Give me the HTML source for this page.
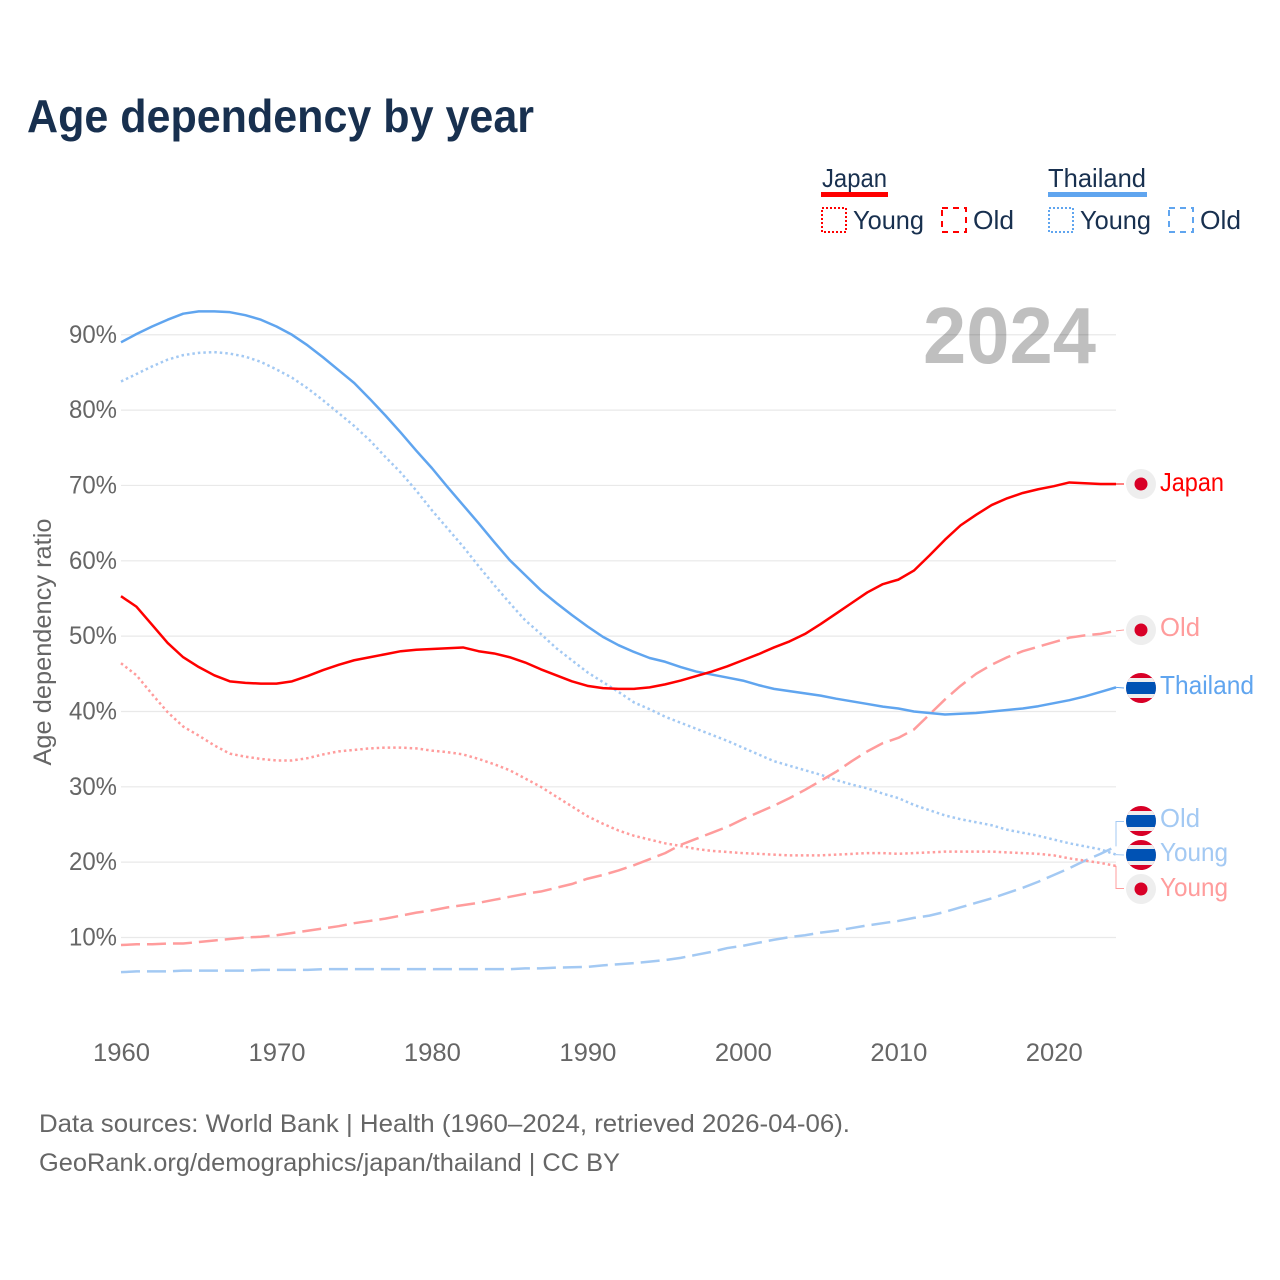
<!DOCTYPE html>
<html lang="en">
<head>
<meta charset="utf-8">
<title>Age dependency by year</title>
<style>
html,body{margin:0;padding:0;background:#fff}
svg{display:block}
text{font-family:"Liberation Sans",sans-serif}
</style>
</head>
<body>
<svg id="chart" width="1280" height="1280" viewBox="0 0 1280 1280" xmlns="http://www.w3.org/2000/svg">
<defs>
<clipPath id="c1"><circle cx="1141" cy="688" r="15"/></clipPath>
<clipPath id="c2"><circle cx="1141" cy="821" r="15"/></clipPath>
<clipPath id="c3"><circle cx="1141" cy="855" r="15"/></clipPath>
</defs>
<rect width="1280" height="1280" fill="#fff"/>
<text x="27" y="132" font-size="46" font-weight="700" fill="#18304f" textLength="507" lengthAdjust="spacingAndGlyphs">Age dependency by year</text>

<g font-size="26" fill="#18304f">
<text x="822" y="187" textLength="65" lengthAdjust="spacingAndGlyphs">Japan</text>
<rect x="821" y="192" width="67" height="5" fill="#ff0000"/>
<rect x="822" y="208" width="24" height="24" fill="none" stroke="#ff0000" stroke-width="2" stroke-dasharray="2 2"/>
<text x="853" y="229" textLength="71" lengthAdjust="spacingAndGlyphs">Young</text>
<rect x="942" y="208" width="24" height="24" fill="none" stroke="#ff0000" stroke-width="2" stroke-dasharray="6 5"/>
<text x="973" y="229" textLength="41" lengthAdjust="spacingAndGlyphs">Old</text>
<text x="1048" y="187" textLength="98" lengthAdjust="spacingAndGlyphs">Thailand</text>
<rect x="1048" y="192" width="99" height="5" fill="#60a5ef"/>
<rect x="1049" y="208" width="24" height="24" fill="none" stroke="#60a5ef" stroke-width="2" stroke-dasharray="2 2"/>
<text x="1080" y="229" textLength="71" lengthAdjust="spacingAndGlyphs">Young</text>
<rect x="1169" y="208" width="24" height="24" fill="none" stroke="#60a5ef" stroke-width="2" stroke-dasharray="6 5"/>
<text x="1200" y="229" textLength="41" lengthAdjust="spacingAndGlyphs">Old</text>
</g>

<g id="grid"></g>
<g id="yticks" font-size="25" fill="#666"></g>
<g id="xticks" font-size="25" fill="#666"></g>
<text transform="translate(51 642) rotate(-90)" text-anchor="middle" font-size="25" fill="#666" textLength="247" lengthAdjust="spacingAndGlyphs">Age dependency ratio</text>
<text x="923" y="363" font-size="80" font-weight="700" fill="#000" fill-opacity="0.25" textLength="173" lengthAdjust="spacingAndGlyphs">2024</text>
<g id="series"></g>

<g font-size="26">
<path id="lead-japan" fill="none" stroke="#ff0000" stroke-width="1"/>
<path id="lead-japan-old" fill="none" stroke="#ff9c9c" stroke-width="1"/>
<path id="lead-thailand" fill="none" stroke="#60a5ef" stroke-width="1"/>
<path id="lead-thailand-old" fill="none" stroke="#a3c9f3" stroke-width="1"/>
<path id="lead-thailand-young" fill="none" stroke="#a3c9f3" stroke-width="1"/>
<path id="lead-japan-young" fill="none" stroke="#ff9c9c" stroke-width="1"/>

<g><circle cx="1141" cy="484" r="15" fill="#eeeeee"/><circle cx="1141" cy="484" r="6.5" fill="#d80027"/></g>
<g><circle cx="1141" cy="630" r="15" fill="#eeeeee"/><circle cx="1141" cy="630" r="6.5" fill="#d80027"/></g>
<g clip-path="url(#c1)"><rect x="1126" y="673" width="30" height="30" fill="#d80027"/><rect x="1126" y="678" width="30" height="20" fill="#eeeeee"/><rect x="1126" y="682" width="30" height="12" fill="#0052b4"/></g>
<g clip-path="url(#c2)"><rect x="1126" y="806" width="30" height="30" fill="#d80027"/><rect x="1126" y="811" width="30" height="20" fill="#eeeeee"/><rect x="1126" y="815" width="30" height="12" fill="#0052b4"/></g>
<g clip-path="url(#c3)"><rect x="1126" y="840" width="30" height="30" fill="#d80027"/><rect x="1126" y="845" width="30" height="20" fill="#eeeeee"/><rect x="1126" y="849" width="30" height="12" fill="#0052b4"/></g>
<g><circle cx="1141" cy="889" r="15" fill="#eeeeee"/><circle cx="1141" cy="889" r="6.5" fill="#d80027"/></g>

<text x="1160" y="491" fill="#ff0000" textLength="64" lengthAdjust="spacingAndGlyphs">Japan</text>
<text x="1160" y="636" fill="#ff9c9c" textLength="40" lengthAdjust="spacingAndGlyphs">Old</text>
<text x="1160" y="694" fill="#60a5ef" textLength="94" lengthAdjust="spacingAndGlyphs">Thailand</text>
<text x="1160" y="827" fill="#a3c9f3" textLength="40" lengthAdjust="spacingAndGlyphs">Old</text>
<text x="1160" y="861" fill="#a3c9f3" textLength="68" lengthAdjust="spacingAndGlyphs">Young</text>
<text x="1160" y="896" fill="#ff9c9c" textLength="68" lengthAdjust="spacingAndGlyphs">Young</text>
</g>

<g font-size="25" fill="#666">
<text x="39" y="1132" textLength="811" lengthAdjust="spacingAndGlyphs">Data sources: World Bank | Health (1960–2024, retrieved 2026-04-06).</text>
<text x="39" y="1171" textLength="581" lengthAdjust="spacingAndGlyphs">GeoRank.org/demographics/japan/thailand | CC BY</text>
</g>
</svg>
<script>
const firstYear = 1960;
const yTickValues = [10, 20, 30, 40, 50, 60, 70, 80, 90];
const xTickValues = [1960, 1970, 1980, 1990, 2000, 2010, 2020];

const japanTotal = [55.3,53.9,51.5,49.1,47.2,45.9,44.8,44.0,43.8,43.7,43.7,44.0,44.7,45.5,46.2,46.8,47.2,47.6,48.0,48.2,48.3,48.4,48.5,48.0,47.7,47.2,46.5,45.6,44.8,44.0,43.4,43.1,43.0,43.0,43.2,43.6,44.1,44.7,45.3,46.0,46.8,47.6,48.5,49.3,50.3,51.6,53.0,54.4,55.8,56.9,57.5,58.7,60.7,62.8,64.7,66.1,67.4,68.3,69.0,69.5,69.9,70.4,70.3,70.2,70.2];
const japanYoung = [46.4,44.8,42.3,39.9,38.0,36.8,35.5,34.4,34.0,33.7,33.5,33.5,33.8,34.3,34.7,34.9,35.1,35.2,35.2,35.1,34.8,34.6,34.3,33.7,33.0,32.2,31.1,30.0,28.7,27.4,26.1,25.1,24.2,23.5,23.0,22.5,22.15,21.75,21.5,21.35,21.2,21.1,21.0,20.9,20.9,20.9,21.0,21.1,21.2,21.2,21.1,21.2,21.3,21.4,21.4,21.4,21.4,21.3,21.2,21.1,20.9,20.5,20.2,19.9,19.5];
const japanOld = [9.0,9.1,9.1,9.2,9.2,9.4,9.6,9.8,10.0,10.1,10.3,10.6,10.9,11.2,11.5,11.9,12.2,12.5,12.9,13.3,13.6,14.0,14.3,14.6,15.0,15.4,15.8,16.1,16.6,17.1,17.8,18.3,18.9,19.6,20.4,21.2,22.3,23.1,23.9,24.7,25.7,26.6,27.5,28.5,29.6,30.8,32.0,33.4,34.7,35.8,36.5,37.6,39.6,41.6,43.4,45.0,46.2,47.2,48.0,48.6,49.2,49.8,50.1,50.3,50.7];
const thailandTotal = [89.0,90.1,91.1,92.0,92.8,93.1,93.1,93.0,92.6,92.0,91.1,90.0,88.6,87.0,85.3,83.6,81.5,79.3,77.0,74.6,72.3,69.8,67.4,65.0,62.5,60.1,58.1,56.1,54.4,52.8,51.3,49.9,48.8,47.9,47.1,46.6,45.9,45.3,44.9,44.5,44.1,43.5,43.0,42.7,42.4,42.1,41.7,41.35,41.0,40.65,40.4,40.0,39.8,39.6,39.7,39.8,40.0,40.2,40.4,40.7,41.1,41.5,42.0,42.6,43.2];
const thailandYoung = [83.8,84.8,85.8,86.7,87.3,87.6,87.7,87.5,87.1,86.4,85.4,84.3,82.9,81.3,79.6,77.9,76.0,73.8,71.7,69.3,66.7,64.3,61.9,59.3,56.8,54.4,52.1,50.3,48.4,46.8,45.2,43.9,42.6,41.2,40.3,39.3,38.5,37.7,36.9,36.1,35.2,34.3,33.4,32.8,32.2,31.6,30.9,30.3,29.8,29.1,28.5,27.6,26.9,26.2,25.7,25.3,24.9,24.3,23.9,23.5,23.0,22.5,22.1,21.7,21.0];
const thailandOld = [5.4,5.5,5.5,5.5,5.6,5.6,5.6,5.6,5.6,5.7,5.7,5.7,5.7,5.8,5.8,5.8,5.8,5.8,5.8,5.8,5.8,5.8,5.8,5.8,5.8,5.8,5.9,5.9,6.0,6.05,6.1,6.3,6.45,6.6,6.8,7.0,7.3,7.7,8.1,8.6,8.9,9.3,9.7,10.05,10.3,10.65,10.9,11.25,11.6,11.9,12.2,12.6,12.9,13.4,14.0,14.6,15.2,15.9,16.6,17.4,18.3,19.2,20.2,21.1,22.1];

const NS = 'http://www.w3.org/2000/svg';
function xScale(year) { return 121 + (year - 1960) * 15.547; }
function yScale(v) { return 937.5 - (v - 10) * 7.534; }
function make(tag, parent, attrs) {
  const el = document.createElementNS(NS, tag);
  for (const k in attrs) el.setAttribute(k, attrs[k]);
  parent.appendChild(el);
  return el;
}

const grid = document.getElementById('grid');
const yticks = document.getElementById('yticks');
yTickValues.forEach(function (v) {
  const line = make('line', grid, { x1: 121, x2: 1116, y1: yScale(v), y2: yScale(v), stroke: '#e9e9e9', 'stroke-width': 1.2 });
  
  
  const t = make('text', yticks, { x: 117, y: yScale(v) + 8, 'text-anchor': 'end', textLength: 48, lengthAdjust: 'spacingAndGlyphs' });
  t.textContent = v + '%';
  
  
});

const xticks = document.getElementById('xticks');
xTickValues.forEach(function (yr) {
  const t = make('text', xticks, { x: xScale(yr) + 0.5, y: 1061, 'text-anchor': 'middle', textLength: 57, lengthAdjust: 'spacingAndGlyphs' });
  t.textContent = yr;
  
  
});

const seriesGroup = document.getElementById('series');
function drawSeries(values, name, color, dash) {
  const pts = values.map(function (v, i) { return xScale(firstYear + i).toFixed(2) + ',' + yScale(v).toFixed(2); }).join(' ');
  const attrs = { points: pts, fill: 'none', stroke: color, 'stroke-width': 2.5, 'stroke-linejoin': 'round' };
  if (dash) attrs['stroke-dasharray'] = dash;
  const el = make('polyline', seriesGroup, attrs);
  
  
}
drawSeries(thailandOld, 'line-thailand-old', '#a3c9f3', '19 7');
drawSeries(thailandYoung, 'line-thailand-young', '#a3c9f3', '2.5 3');
drawSeries(japanOld, 'line-japan-old', '#ff9c9c', '19 7');
drawSeries(japanYoung, 'line-japan-young', '#ff9c9c', '2.5 3');
drawSeries(thailandTotal, 'line-thailand-total', '#60a5ef', '');
drawSeries(japanTotal, 'line-japan-total', '#ff0000', '');

function last(a) { return yScale(a[a.length - 1]); }
document.getElementById('lead-japan').setAttribute('d', 'M1116 ' + last(japanTotal) + ' L1124 484');
document.getElementById('lead-japan-old').setAttribute('d', 'M1116 ' + last(japanOld) + ' L1124 630');
document.getElementById('lead-thailand').setAttribute('d', 'M1116 ' + last(thailandTotal) + ' L1124 688');
document.getElementById('lead-thailand-old').setAttribute('d', 'M1116 ' + last(thailandOld) + ' V821.5 H1124');
document.getElementById('lead-thailand-young').setAttribute('d', 'M1116 ' + last(thailandYoung) + ' L1124 855');
document.getElementById('lead-japan-young').setAttribute('d', 'M1116 ' + last(japanYoung) + ' V888.5 H1124');
</script>
</body>
</html>
